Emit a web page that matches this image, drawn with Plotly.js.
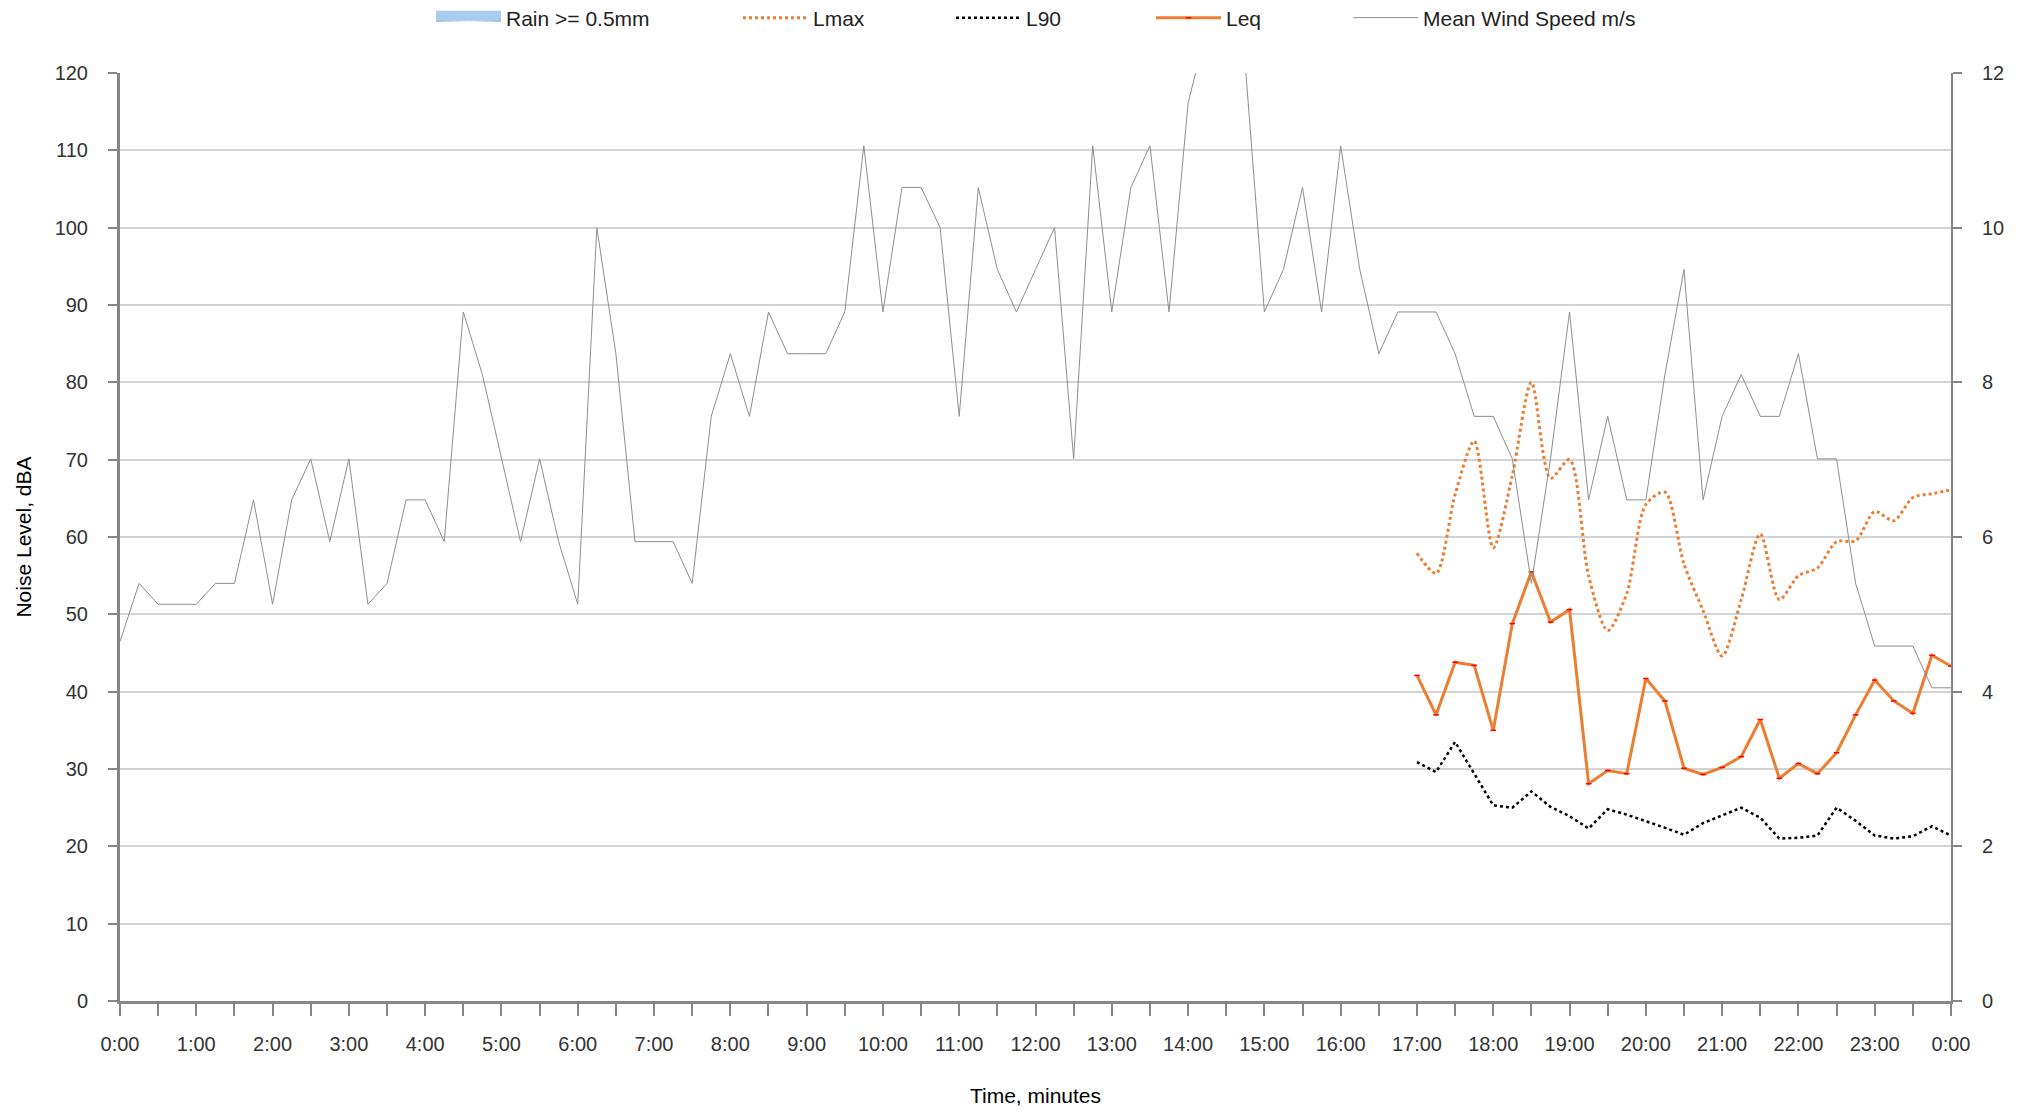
<!DOCTYPE html>
<html>
<head>
<meta charset="utf-8">
<script src="https://cdn.plot.ly/plotly-3.0.1.min.js"></script>
<style>
html, body { margin: 0; padding: 0; background: #ffffff; }
#chart { width: 2036px; height: 1112px; }
</style>
</head>
<body>
<div id="chart"></div>
<script>
// ---- data ----
const hourLabels = ['0:00','1:00','2:00','3:00','4:00','5:00','6:00','7:00','8:00','9:00','10:00','11:00',
  '12:00','13:00','14:00','15:00','16:00','17:00','18:00','19:00','20:00','21:00','22:00','23:00','0:00'];

const sampleStepHours = 0.25;   // 15-minute samples
const windStartHour = 0;
const noiseStartHour = 17;

// Mean wind speed, m/s, every 15 min from 0:00 to 24:00
const windSpeed = [4.65,5.4,5.13,5.13,5.13,5.4,5.4,6.48,5.13,6.48,
  7.01,5.94,7.01,5.13,5.4,6.48,6.48,5.94,8.91,8.1,
  7.01,5.94,7.01,5.94,5.13,10.0,8.37,5.94,5.94,5.94,
  5.4,7.56,8.37,7.56,8.91,8.37,8.37,8.37,8.91,11.06,
  8.91,10.52,10.52,10.0,7.56,10.52,9.46,8.91,9.46,10.0,
  7.01,11.06,8.91,10.52,11.06,8.91,11.61,12.6,12.6,12.1,
  8.91,9.46,10.52,8.91,11.06,9.46,8.37,8.91,8.91,8.91,
  8.37,7.56,7.56,7.01,5.4,7.01,8.91,6.48,7.56,6.48,
  6.48,8.1,9.46,6.48,7.56,8.1,7.56,7.56,8.37,7.01,
  7.01,5.4,4.59,4.59,4.59,4.05,4.05];

// Noise levels, dBA, every 15 min from 17:00 to 24:00
const lmax = [57.9,55.3,65.5,72.4,58.6,68.0,80.0,67.6,70.0,55.0,47.9,52.7,64.2,65.8,56.5,
  50.5,44.6,51.9,60.4,51.9,55.0,56.0,59.4,59.5,63.3,62.1,65.1,65.6,66.1];
const l90 = [30.9,29.6,33.5,29.4,25.3,25.0,27.1,25.1,23.9,22.3,24.8,24.1,23.3,22.4,21.5,
  23.0,24.0,25.0,23.7,21.0,21.1,21.4,25.0,23.3,21.4,21.0,21.3,22.6,21.4];
const leq = [42.1,37.0,43.8,43.4,35.0,48.8,55.5,49.0,50.6,28.1,29.8,29.4,41.7,38.8,30.1,
  29.3,30.2,31.6,36.4,28.8,30.7,29.4,32.1,37.0,41.5,38.8,37.2,44.7,43.3];

// Rain >= 0.5mm: no qualifying rain recorded in this period
const rainTimes = [0];
const rainMm = [null];

// ---- build ----
const windTimes = windSpeed.map((_, i) => windStartHour + i * sampleStepHours);
const noiseTimes = leq.map((_, i) => noiseStartHour + i * sampleStepHours);

const tickVals = [];
const tickText = [];
hourLabels.forEach((lab, i) => {
  tickVals.push(i); tickText.push(lab);
  if (i < hourLabels.length - 1) { tickVals.push(i + 0.5); tickText.push(''); }
});

const FONT = 'Liberation Sans, Arial, Helvetica, sans-serif';
const ORANGE = '#ED7D31';
const AXIS = '#868686';

const traces = [
  { type: 'scatter', mode: 'lines', name: 'Rain >= 0.5mm', x: rainTimes, y: rainMm, yaxis: 'y2',
    fill: 'tozeroy',
    fillgradient: { type: 'horizontal', colorscale: [[0, '#7fb0e0'], [0.5, '#eef5fc'], [1, '#7fb0e0']] },
    line: { color: '#a9cbee', width: 16 }, legend: 'legend', showlegend: true },
  { type: 'scatter', mode: 'lines', name: 'Lmax', x: noiseTimes, y: lmax,
    line: { color: ORANGE, width: 3, dash: 'dot', shape: 'spline', smoothing: 0.8 }, legend: 'legend2' },
  { type: 'scatter', mode: 'lines', name: 'L90', x: noiseTimes, y: l90,
    line: { color: '#000000', width: 2.5, dash: 'dot' }, legend: 'legend3' },
  { type: 'scatter', mode: 'lines+markers', name: 'Leq', x: noiseTimes, y: leq,
    line: { color: ORANGE, width: 3 },
    marker: { symbol: 'line-ew', size: 4, color: '#ff0000', line: { color: '#ff0000', width: 1.5 } },
    legend: 'legend4' },
  { type: 'scatter', mode: 'lines', name: 'Mean Wind Speed m/s', x: windTimes, y: windSpeed, yaxis: 'y2',
    line: { color: '#8e8e8e', width: 1 }, legend: 'legend5' }
];

function leg(xPx) {
  return { xref: 'container', yref: 'container', x: xPx / 2036, y: 1 - 18 / 1112,
    xanchor: 'left', yanchor: 'middle', orientation: 'h',
    bgcolor: 'rgba(0,0,0,0)', borderwidth: 0, itemwidth: 65,
    font: { family: FONT, size: 21, color: '#222222' } };
}

const layout = {
  width: 2036, height: 1112,
  margin: { l: 120, r: 85, t: 73, b: 111, pad: 0, autoexpand: false },
  paper_bgcolor: '#ffffff', plot_bgcolor: '#ffffff',
  font: { family: FONT, size: 20, color: '#333333' },
  showlegend: true,
  legend: leg(431),
  legend2: leg(738),
  legend3: leg(951),
  legend4: leg(1151),
  legend5: leg(1348),
  xaxis: {
    range: [0, 24], tickmode: 'array', tickvals: tickVals, ticktext: tickText,
    showgrid: false, zeroline: false, showline: true, linecolor: AXIS, linewidth: 3,
    ticks: 'outside', ticklen: 12, tickwidth: 2, tickcolor: AXIS, ticklabelstandoff: 11,
    tickfont: { family: FONT, size: 20, color: '#333333' },
    title: { text: 'Time, minutes', font: { family: FONT, size: 21, color: '#000000' }, standoff: 35 },
    automargin: false
  },
  yaxis: {
    range: [0, 120], dtick: 10, tick0: 0,
    showgrid: true, gridcolor: '#d3d3d3', gridwidth: 2, zeroline: false,
    showline: true, linecolor: AXIS, linewidth: 3,
    ticks: 'outside', ticklen: 9, tickwidth: 2, tickcolor: AXIS, ticklabelstandoff: 16,
    tickfont: { family: FONT, size: 20, color: '#333333' },
    title: { text: 'Noise Level, dBA', font: { family: FONT, size: 21, color: '#000000' }, standoff: 18 },
    automargin: false
  },
  yaxis2: {
    range: [0, 12], dtick: 2, tick0: 0, overlaying: 'y', side: 'right',
    showgrid: false, zeroline: false, showline: true, linecolor: AXIS, linewidth: 2,
    ticks: 'outside', ticklen: 9, tickwidth: 2, tickcolor: AXIS, ticklabelstandoff: 16,
    tickfont: { family: FONT, size: 20, color: '#333333' },
    automargin: false
  }
};

Plotly.newPlot('chart', traces, layout, { displayModeBar: false, staticPlot: true });
</script>
</body>
</html>
